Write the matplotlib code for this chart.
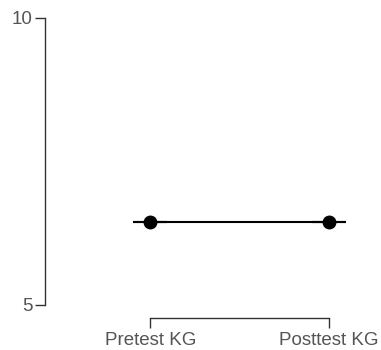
import numpy as np
from matplotlib import pyplot as plt

plt.rcParams['font.family'] = ['Liberation Sans', 'DejaVu Sans']

groups = ['Pretest KG', 'Posttest KG']
means = [6.45, 6.45]
errors = [0.0, 0.0]
yticks = [5, 10]

fig = plt.figure(figsize=(3.81, 3.5), dpi=100)
ax = fig.add_axes([0.118, 0.0914, 0.84, 0.874])

x = np.arange(len(groups))
ax.errorbar(x, means, yerr=errors, color='black', linewidth=1.5,
            capsize=12.5, capthick=1.5, marker='o', markersize=9,
            elinewidth=1.5)

ax.set_xlim(-0.59, 1.2)
ax.set_ylim(4.77, 10.1)
ax.set_xticks(x)
ax.set_xticklabels(groups)
ax.set_yticks(yticks)

for side in ['top', 'right']:
    ax.spines[side].set_visible(False)
ax.spines['left'].set_bounds(5, 10)
ax.spines['bottom'].set_bounds(0, 1)
for side in ['left', 'bottom']:
    ax.spines[side].set_color('#333333')
    ax.spines[side].set_linewidth(1.0)

ax.tick_params(axis='both', length=7, width=1.0, color='#333333',
               labelsize=13.5, labelcolor='#555555', pad=2)
ax.tick_params(axis='x', pad=3)

fig.savefig('out.png', dpi=100)
